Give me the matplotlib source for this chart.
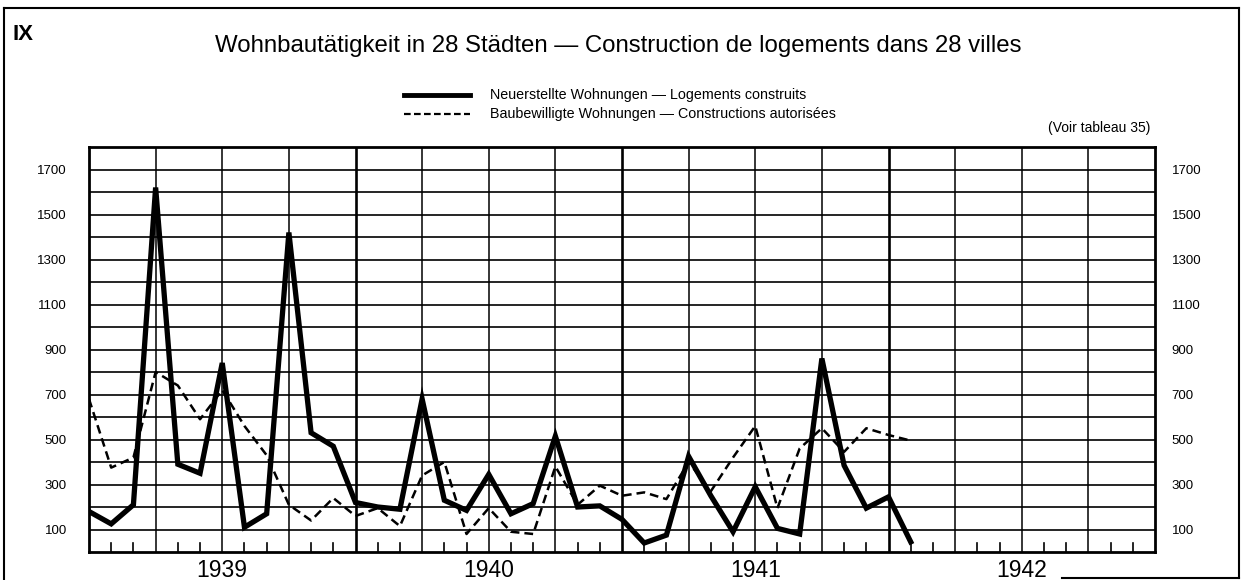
import matplotlib.pyplot as plt
from matplotlib.lines import Line2D

plt.rcParams['font.family'] = ['Liberation Sans', 'DejaVu Sans']

# monthly values, first point at left border of 1939
months = list(range(38))
built = [180, 125, 210, 1620, 390, 350, 840, 110, 170, 1420, 530, 470,
         220, 200, 190, 680, 230, 185, 345, 170, 215, 515, 200, 205,
         145, 40, 75, 425, 250, 90, 290, 105, 80, 860, 385, 195, 245, 45]
authorized = [680, 375, 420, 800, 740, 590, 720, 560, 430, 210, 140, 240,
              160, 195, 115, 340, 400, 80, 195, 90, 80, 380, 210, 295,
              250, 265, 235, 400, 270, 420, 560, 195, 460, 550, 445, 550, 520, 495]
years = ['1939', '1940', '1941', '1942']
ytick_values = [100, 300, 500, 700, 900, 1100, 1300, 1500, 1700]

fig = plt.figure(figsize=(12.42, 5.8), dpi=100)
ax = fig.add_axes([89 / 1242, 28 / 580, (1155 - 89) / 1242, (552 - 147) / 580])

# grid: every 100 horizontally, every quarter vertically, year lines heavier
for v in range(100, 1800, 100):
    ax.axhline(v, color='black', lw=1.2, zorder=1)
for q in range(3, 48, 3):
    ax.axvline(q, color='black', lw=1.9 if q % 12 == 0 else 1.1, zorder=1)
# month ticks at the bottom
for m in range(1, 48):
    if m % 3:
        ax.plot([m, m], [0, 40], color='black', lw=1.2, zorder=1)

ax.plot(months, built, color='black', lw=3.8, solid_joinstyle='miter', zorder=3)
ax.plot(months, authorized, color='black', lw=1.8, dashes=(3.5, 2), zorder=2)

ax.set_xlim(0, 48)
ax.set_ylim(0, 1800)
ax.set_xticks([])
ax.set_yticks(ytick_values)
ax.set_yticklabels([str(v) for v in ytick_values])
ax.tick_params(axis='y', length=0, labelsize=9.5, pad=16)
for sp in ax.spines.values():
    sp.set_linewidth(2)

sec = ax.secondary_yaxis('right')
sec.set_yticks(ytick_values)
sec.set_yticklabels([str(v) for v in ytick_values])
sec.tick_params(length=0, labelsize=9.5, pad=12)
sec.spines['right'].set_visible(False)

for i, y in enumerate(years):
    ax.text(6 + 12 * i, -30, y, ha='center', va='top', fontsize=16.5)

# titles and legend
fig.text(12 / 1242, 1 - 35 / 580, 'IX', fontsize=16, fontweight='bold', va='center')
fig.text(618 / 1242, 1 - 46 / 580,
         'Wohnbautätigkeit in 28 Städten \u2014 Construction de logements dans 28 villes',
         ha='center', va='center', fontsize=17.3)
fig.add_artist(Line2D([404 / 1242, 470 / 1242], [1 - 95 / 580] * 2, color='black', lw=3.5))
fig.add_artist(Line2D([404 / 1242, 470 / 1242], [1 - 114 / 580] * 2, color='black', lw=1.6,
                      dashes=(3, 1.5)))
fig.text(490 / 1242, 1 - 95 / 580, 'Neuerstellte Wohnungen \u2014 Logements construits',
         va='center', fontsize=10.3)
fig.text(490 / 1242, 1 - 114 / 580, 'Baubewilligte Wohnungen \u2014 Constructions autorisées',
         va='center', fontsize=10.3)
fig.text(1150 / 1242, 1 - 128 / 580, '(Voir tableau 35)', ha='right', va='center', fontsize=10)

# page frame
fig.add_artist(Line2D([4 / 1242, 4 / 1242], [0, 1 - 8 / 580], color='black', lw=1.5))
fig.add_artist(Line2D([4 / 1242, 1239 / 1242], [1 - 8 / 580] * 2, color='black', lw=1.5))
fig.add_artist(Line2D([1239 / 1242, 1239 / 1242], [1 - 8 / 580, 2 / 580], color='black', lw=1.5))
fig.add_artist(Line2D([1062 / 1242, 1239 / 1242], [2 / 580] * 2, color='black', lw=1.5))

fig.savefig('out.png', dpi=100)
